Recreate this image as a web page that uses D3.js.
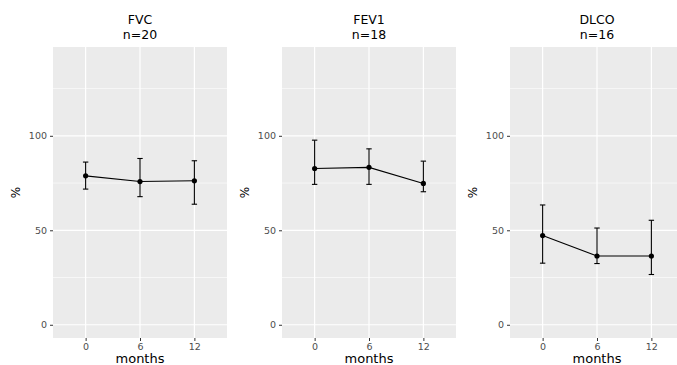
<!DOCTYPE html>
<html>
<head>
<meta charset="utf-8">
<script src="https://cdn.jsdelivr.net/npm/d3@7"></script>
<style>
  body { margin: 0; background: #fff; }
  svg { display: block; font-family: "DejaVu Sans", sans-serif; }
</style>
</head>
<body>
<svg id="chart"></svg>
<script>
// data
const months = [0, 6, 12];
const titles = ["FVC", "FEV1", "DLCO"];
const counts = [20, 18, 16];
const fvcMean = [78.8, 75.8, 76.2];
const fvcHigh = [86.1, 88.0, 86.8];
const fvcLow = [71.8, 67.8, 63.8];
const fev1Mean = [82.7, 83.3, 74.8];
const fev1High = [97.7, 93.1, 86.6];
const fev1Low = [74.3, 74.3, 70.4];
const dlcoMean = [47.2, 36.4, 36.4];
const dlcoHigh = [63.4, 51.2, 55.3];
const dlcoLow = [32.6, 32.4, 26.6];
const yTicks = [0, 50, 100];
const yMinor = [25, 75, 125];

const panels = [
  { mean: fvcMean, high: fvcHigh, low: fvcLow },
  { mean: fev1Mean, high: fev1High, low: fev1Low },
  { mean: dlcoMean, high: dlcoHigh, low: dlcoLow }
];

const width = 677, height = 365;
const svg = d3.select("#chart").attr("width", width).attr("height", height);

const panelW = 174, panelTop = 47, panelBottom = 338;
const lefts = [53, 282, 510];

const y = d3.scaleLinear().domain([-7, 147]).range([panelBottom, panelTop]);

panels.forEach(function(p, i) {
  const x0 = lefts[i];
  const x = d3.scaleLinear().domain([-3.6, 15.6]).range([x0, x0 + panelW]);
  const g = svg.append("g");

  g.append("rect")
    .attr("x", x0).attr("y", panelTop)
    .attr("width", panelW).attr("height", panelBottom - panelTop)
    .attr("fill", "#ebebeb");

  // minor grid
  g.selectAll(".minor").data(yMinor).enter().append("line")
    .attr("x1", x0).attr("x2", x0 + panelW)
    .attr("y1", d => y(d)).attr("y2", d => y(d))
    .attr("stroke", "#fff").attr("stroke-width", 0.6);

  // major grid
  g.selectAll(".majy").data(yTicks).enter().append("line")
    .attr("x1", x0).attr("x2", x0 + panelW)
    .attr("y1", d => y(d)).attr("y2", d => y(d))
    .attr("stroke", "#fff").attr("stroke-width", 1.2);
  g.selectAll(".majx").data(months).enter().append("line")
    .attr("x1", d => x(d)).attr("x2", d => x(d))
    .attr("y1", panelTop).attr("y2", panelBottom)
    .attr("stroke", "#fff").attr("stroke-width", 1.2);

  // axes
  const yAxis = g.append("g")
    .attr("transform", `translate(${x0},0)`)
    .call(d3.axisLeft(y).tickValues(yTicks).tickSize(3).tickPadding(3));
  const xAxis = g.append("g")
    .attr("transform", `translate(0,${panelBottom})`)
    .call(d3.axisBottom(x).tickValues(months).tickSize(3).tickPadding(2));
  [yAxis, xAxis].forEach(function(a) {
    a.select(".domain").remove();
    a.selectAll("line").style("stroke", "#333");
    a.selectAll("text")
      .style("fill", "#4d4d4d")
      .style("font-family", "DejaVu Sans, sans-serif")
      .style("font-size", "9.5px");
  });

  // titles
  const cx = x0 + panelW / 2;
  g.append("text").attr("x", cx).attr("y", 23.5)
    .attr("text-anchor", "middle").style("font-size", "12.5px").style("fill", "#000")
    .text(titles[i]);
  g.append("text").attr("x", cx).attr("y", 38.5)
    .attr("text-anchor", "middle").style("font-size", "12.5px").style("fill", "#000")
    .text("n=" + counts[i]);

  g.append("text").attr("x", cx).attr("y", 363)
    .attr("text-anchor", "middle").style("font-size", "13px").style("fill", "#000")
    .text("months");
  g.append("text")
    .attr("transform", `translate(${x0 - 33},${(panelTop + panelBottom) / 2}) rotate(-90)`)
    .attr("text-anchor", "middle").style("font-size", "12px").style("fill", "#000")
    .text("%");

  const pts = months.map((m, j) => ({ m: m, v: p.mean[j], hi: p.high[j], lo: p.low[j] }));

  // error bars
  const eb = g.selectAll(".eb").data(pts).enter().append("g");
  eb.append("line")
    .attr("x1", d => x(d.m)).attr("x2", d => x(d.m))
    .attr("y1", d => y(d.hi)).attr("y2", d => y(d.lo))
    .attr("stroke", "#000").attr("stroke-width", 1.1);
  eb.append("line")
    .attr("x1", d => x(d.m) - 2.7).attr("x2", d => x(d.m) + 2.7)
    .attr("y1", d => y(d.hi)).attr("y2", d => y(d.hi))
    .attr("stroke", "#000").attr("stroke-width", 1.1);
  eb.append("line")
    .attr("x1", d => x(d.m) - 2.7).attr("x2", d => x(d.m) + 2.7)
    .attr("y1", d => y(d.lo)).attr("y2", d => y(d.lo))
    .attr("stroke", "#000").attr("stroke-width", 1.1);

  g.append("path").datum(pts)
    .attr("fill", "none").attr("stroke", "#000").attr("stroke-width", 1.1)
    .attr("d", d3.line().x(d => x(d.m)).y(d => y(d.v)));

  g.selectAll(".pt").data(pts).enter().append("circle")
    .attr("cx", d => x(d.m)).attr("cy", d => y(d.v))
    .attr("r", 2.6).attr("fill", "#000");
});
</script>
</body>
</html>
